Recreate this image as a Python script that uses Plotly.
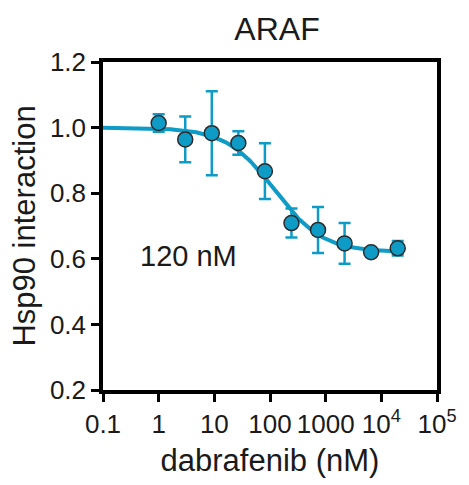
import numpy as np
import plotly.graph_objects as go

# Data
conc_nM = [1, 3, 9, 27, 81, 243, 729, 2187, 6561, 19683]
hsp90 = [1.014, 0.964, 0.983, 0.953, 0.867, 0.709, 0.688, 0.647, 0.620, 0.632]
err = [0.027, 0.070, 0.128, 0.036, 0.085, 0.044, 0.070, 0.062, 0.010, 0.022]

# Fitted dose-response parameters
fit_top = 1.0
fit_bottom = 0.62
fit_ic50 = 120.0
fit_hill = 1.0
fit_range = [0.1, 21000]

x_tickvals = [0.1, 1, 10, 100, 1000, 1e4, 1e5]
x_ticktext = ["0.1", "1", "10", "100", "1000", "10<sup>4</sup>", "10<sup>5</sup>"]
y_tickvals = [0.2, 0.4, 0.6, 0.8, 1.0, 1.2]

color = "#0e9bc6"
font = "Liberation Sans, Arial, Helvetica, sans-serif"

xc = np.logspace(np.log10(fit_range[0]), np.log10(fit_range[1]), 300)
yc = fit_bottom + (fit_top - fit_bottom) / (1 + (xc / fit_ic50) ** fit_hill)

fig = go.Figure()
fig.add_trace(go.Scatter(x=xc, y=yc, mode="lines",
                         line=dict(color=color, width=4), hoverinfo="skip"))
fig.add_trace(go.Scatter(
    x=conc_nM, y=hsp90, mode="markers",
    marker=dict(size=15, color=color, line=dict(color="#2b2b2b", width=1.5)),
    error_y=dict(type="data", array=err, visible=True, color=color,
                 thickness=2.5, width=6),
))

fig.add_annotation(x=np.log10(3.4), y=0.61, xref="x", yref="y", text="120 nM",
                   showarrow=False, font=dict(size=29, color="#1a1a1a", family=font))

axis_common = dict(showline=True, linecolor="black", linewidth=3.5, mirror=True,
                   ticks="outside", tickcolor="black", tickwidth=3, ticklen=8,
                   showgrid=False, zeroline=False,
                   tickfont=dict(size=26, color="#1a1a1a", family=font))

fig.update_layout(
    width=469, height=485,
    margin=dict(l=103, r=29, t=62, b=88),
    plot_bgcolor="white", paper_bgcolor="white",
    showlegend=False,
    title=dict(text="ARAF", x=277 / 469, xref="container", xanchor="center",
               y=1 - 40 / 485, yanchor="bottom",
               font=dict(size=32, color="#1a1a1a", family=font)),
    xaxis=dict(type="log", range=[-1, 5], tickvals=x_tickvals, ticktext=x_ticktext,
               title=dict(text="dabrafenib (nM)", standoff=12,
                          font=dict(size=31, color="#1a1a1a", family=font)),
               **axis_common),
    yaxis=dict(range=[0.2, 1.2], tickvals=y_tickvals, tickformat=".1f",
               title=dict(text="Hsp90 interaction", standoff=6,
                          font=dict(size=31, color="#1a1a1a", family=font)),
               **axis_common),
)

fig.write_html("out.html")
